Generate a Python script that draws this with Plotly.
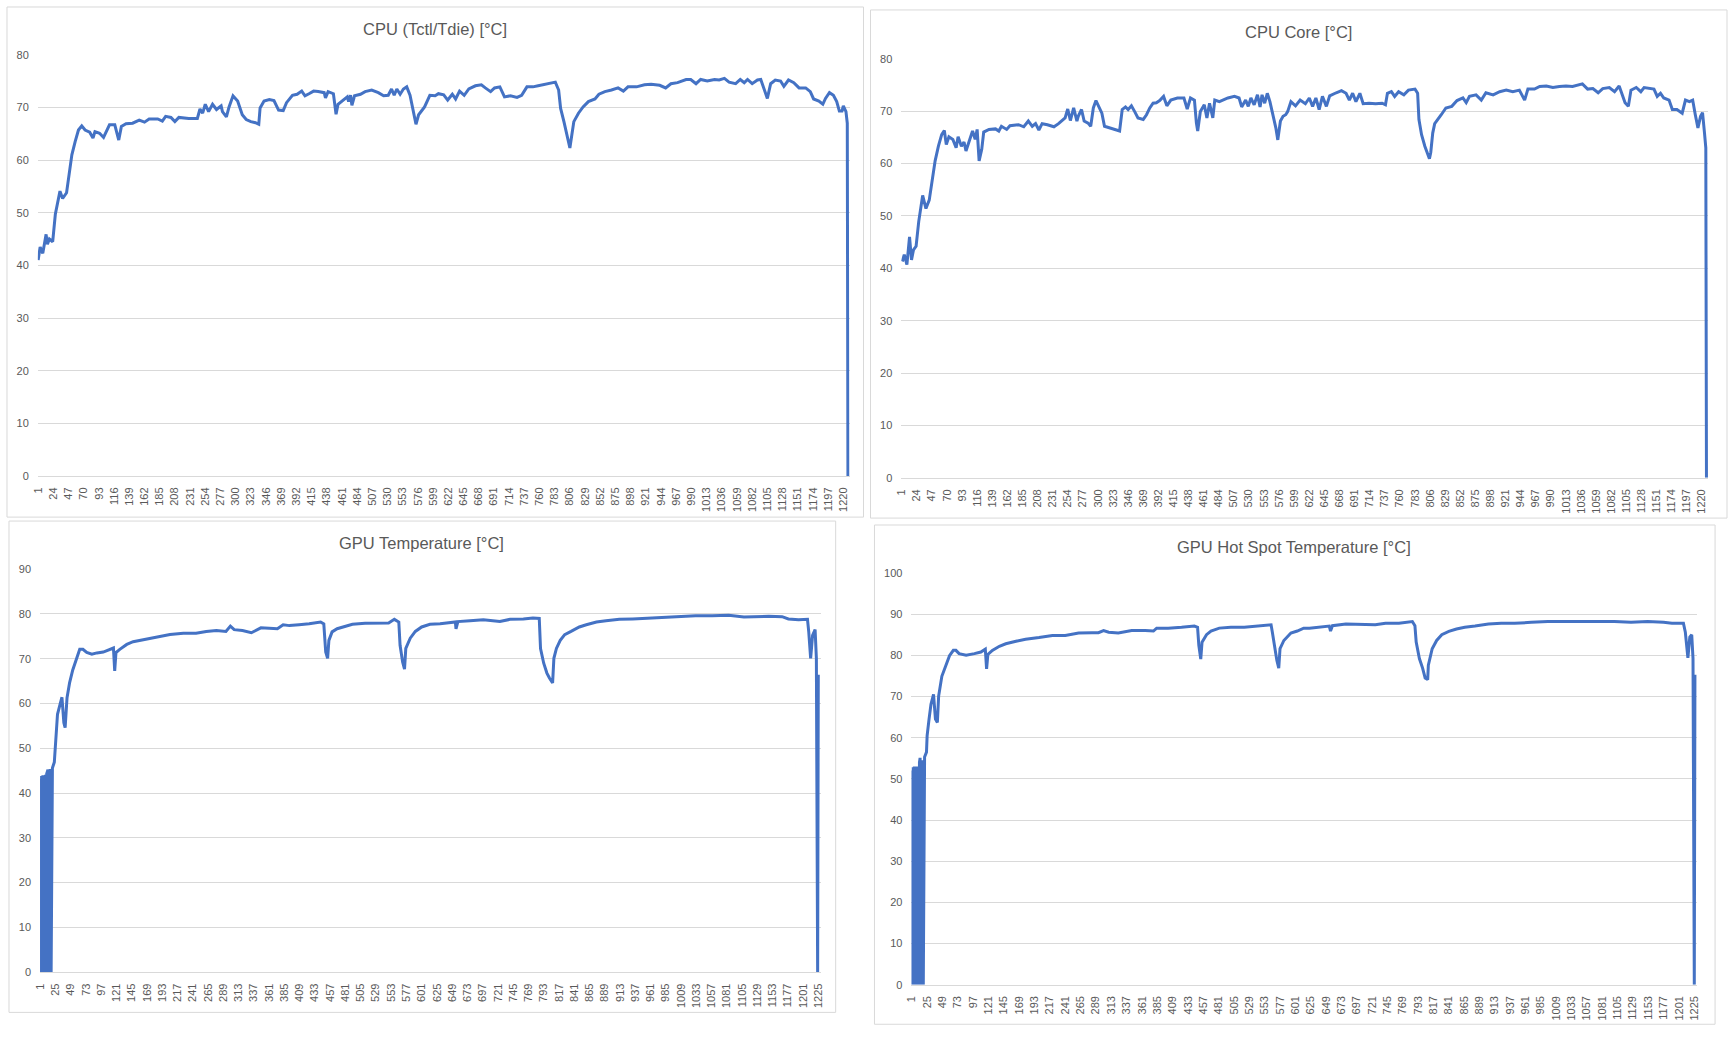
import plotly.graph_objects as go

W, H = 1732, 1052
N_CAT = 1229

# ---------------- data (sample index, value) ----------------
cpu_x = [1,4,8,13,15,18,23,27,34,38,44,48,52,57,62,67,72,79,84,87,94,100,104,109,117,123,127,134,144,154,162,169,182,189,194,202,208,214,229,242,246,250,254,259,265,271,278,280,286,290,296,303,310,316,323,330,335,337,343,351,358,365,372,377,386,393,400,405,411,418,425,434,436,440,448,452,455,464,469,471,474,476,480,489,496,506,516,524,531,536,540,544,549,554,559,564,569,573,577,582,586,594,602,607,615,621,628,633,639,646,653,663,672,678,686,692,700,707,716,726,733,741,750,758,766,776,784,789,792,797,802,806,809,812,819,826,834,844,850,859,869,879,887,894,907,919,929,942,951,959,969,982,989,997,1004,1014,1025,1032,1040,1047,1057,1064,1070,1075,1082,1090,1095,1100,1105,1110,1117,1125,1130,1137,1145,1153,1163,1170,1175,1183,1189,1193,1199,1205,1210,1214,1218,1220,1224,1226,1227]
cpu_y = [41.0,43.5,42.3,45.9,44.0,45.0,44.5,49.7,54.1,52.7,53.8,57.9,61.0,63.5,65.7,66.5,65.7,65.3,64.2,65.4,65.1,64.3,65.3,66.7,66.7,63.8,66.4,66.9,67.0,67.6,67.2,67.8,67.8,67.4,68.3,68.1,67.3,68.1,67.9,67.9,69.7,68.9,70.6,69.2,70.6,69.6,70.3,69.2,68.2,70.1,72.2,71.2,68.6,67.7,67.3,67.1,66.8,69.9,71.2,71.5,71.3,69.5,69.4,70.9,72.3,72.5,73.1,72.2,72.6,73.1,73.0,72.8,71.8,73.0,72.6,68.7,70.6,71.4,72.0,71.1,72.3,70.4,72.2,72.5,73.0,73.3,72.8,72.2,72.3,73.5,72.3,73.5,72.5,73.5,73.9,72.3,69.2,66.8,68.6,69.5,70.1,72.3,72.2,72.6,72.4,71.4,72.5,71.6,73.1,72.3,73.5,74.1,74.3,73.7,73.0,73.7,73.9,72.0,72.2,71.9,72.3,73.9,73.9,74.1,74.3,74.5,74.8,73.3,69.8,67.3,64.5,62.3,64.8,67.3,68.9,70.1,71.1,71.6,72.5,73.0,73.3,73.7,73.1,73.9,73.9,74.3,74.4,74.2,73.7,74.5,74.7,75.3,75.3,74.5,75.3,75.0,75.3,75.2,75.5,74.8,74.5,75.3,74.7,75.3,74.5,75.2,75.3,73.3,71.7,74.5,75.2,75.0,74.0,75.2,74.7,73.7,73.7,73.0,71.6,71.2,70.6,71.7,72.8,72.3,71.1,69.3,69.3,70.3,69.2,67.0,0.0]

core_x = [2,5,9,13,16,19,23,27,33,38,43,48,52,57,62,66,69,73,79,84,87,92,96,99,105,109,113,116,119,123,126,134,144,149,153,161,166,179,187,194,200,205,210,215,223,233,240,245,250,254,258,263,268,270,275,279,285,289,293,297,302,306,310,318,326,333,337,342,346,351,356,361,369,374,379,384,389,394,400,405,411,421,431,436,441,447,450,452,456,462,466,470,475,478,485,490,498,508,515,519,525,529,533,538,543,547,550,554,558,562,566,571,574,578,582,586,589,594,601,608,616,622,627,632,637,642,648,653,663,671,678,683,688,693,699,704,713,723,733,738,741,747,752,758,766,773,783,787,789,793,798,805,807,810,813,818,823,830,839,847,856,861,866,876,884,891,902,912,922,932,942,950,955,965,973,983,993,1003,1013,1023,1031,1038,1046,1054,1062,1069,1079,1087,1094,1098,1103,1108,1112,1120,1127,1132,1140,1147,1152,1157,1162,1170,1175,1182,1190,1195,1201,1206,1210,1214,1218,1221,1224,1226,1227]
core_y = [41.3,42.6,40.7,46.0,41.6,43.5,44.2,48.9,53.9,51.4,53.0,57.0,60.5,63.3,65.5,66.3,63.6,65.1,64.6,63.0,65.1,63.3,64.1,62.4,64.9,66.2,64.6,66.5,60.5,62.7,66.0,66.5,66.6,66.2,67.1,66.5,67.2,67.4,67.0,68.1,67.1,67.6,66.4,67.6,67.4,67.0,67.6,68.1,68.7,70.4,68.2,70.6,68.1,69.0,70.3,68.1,67.7,67.1,70.6,72.0,70.6,69.6,67.1,66.8,66.6,66.2,70.3,70.8,70.3,71.0,69.9,68.7,68.4,69.3,70.6,71.5,71.6,72.0,72.8,71.0,72.1,72.5,72.5,70.4,72.5,72.1,67.7,66.2,69.9,71.2,68.7,71.5,68.7,72.1,71.8,72.1,72.5,72.8,72.5,70.8,72.1,70.9,72.5,71.2,73.1,70.8,73.1,71.5,73.4,71.8,69.6,66.8,64.5,68.1,69.0,69.3,69.9,71.8,71.0,72.1,71.4,72.5,70.9,72.5,70.3,72.8,70.9,72.9,73.5,73.9,73.4,72.1,73.4,71.8,73.4,71.4,71.5,71.4,71.5,71.2,73.4,73.7,72.8,73.7,73.1,74.0,74.2,73.4,68.4,65.5,63.3,60.9,62.1,65.8,67.6,68.4,69.3,70.6,70.9,72.0,72.5,71.6,72.8,73.1,72.1,73.5,73.1,73.7,74.0,73.7,74.0,72.1,74.2,74.2,74.7,74.8,74.5,74.7,74.8,74.7,75.0,75.2,74.2,74.3,73.5,74.3,74.5,73.7,74.8,73.4,71.6,70.9,74.0,74.5,73.7,74.5,74.3,74.2,72.8,73.4,72.5,72.1,70.3,70.3,69.6,72.1,71.8,72.1,69.3,66.8,69.0,69.7,65.8,63.0,0.0]

gpu_x = [1,2,3,4,5,6,7,8,9,10,11,12,13,14,15,16,17,18,19,20,23,25,28,32,35,38,40,43,47,52,58,63,68,74,82,90,100,108,116,118,120,126,137,147,158,173,189,205,226,246,262,278,293,300,306,319,333,340,348,361,374,383,393,408,424,442,447,450,453,455,460,468,479,492,512,533,549,558,565,567,571,574,576,583,591,601,614,630,646,654,655,658,677,698,724,740,761,776,786,788,793,798,802,807,809,813,819,826,836,849,860,876,891,912,933,959,985,1011,1032,1058,1084,1108,1126,1147,1168,1178,1194,1208,1210,1213,1216,1220,1222,1223,1224,1225]
gpu_y = [43.2,0,43.8,0,44.0,0,43.9,0,44.1,0,44.3,45.0,45.2,0,45.3,0,45.4,0,45.4,45.6,46.9,51.7,57.6,59.8,61.4,55.7,54.6,61.3,64.6,67.5,70.1,72.1,72.1,71.4,71.0,71.3,71.5,71.9,72.4,67.3,71.4,72.1,73.2,73.8,74.1,74.6,75.1,75.4,75.7,75.7,76.1,76.3,76.1,77.3,76.5,76.3,75.8,76.3,76.9,76.8,76.7,77.6,77.4,77.6,77.8,78.2,77.8,71.5,70.1,74.1,76.0,76.7,77.2,77.7,77.9,78.0,78.0,78.8,78.2,73.0,69.3,67.7,72.3,74.6,76.1,77.1,77.7,77.8,78.0,78.2,76.7,78.3,78.5,78.7,78.3,78.8,78.9,79.1,79.0,72.3,69.0,66.8,65.7,64.6,70.1,72.3,74.1,75.4,76.1,77.1,77.6,78.2,78.5,78.8,78.9,79.1,79.3,79.5,79.6,79.6,79.7,79.3,79.4,79.5,79.4,78.9,78.7,78.8,76.0,70.1,75.2,76.5,70.1,35.0,0,66.4]

hot_x = [1,2,3,4,5,6,7,8,9,10,11,12,13,14,15,16,17,18,19,20,21,24,25,28,31,35,38,41,43,48,54,60,66,70,75,86,99,109,116,118,120,127,138,148,164,179,200,221,241,262,283,293,301,309,324,332,345,366,379,384,402,423,443,448,450,453,455,462,469,482,500,521,542,558,563,565,569,572,575,577,583,594,604,614,623,638,654,656,659,680,701,726,742,763,784,788,790,795,800,804,808,809,815,822,830,841,853,866,882,903,923,944,970,996,1022,1048,1074,1100,1126,1152,1177,1190,1208,1211,1215,1218,1221,1223,1224,1225,1226]
hot_y = [52.0,0,52.8,0,53.0,0,52.9,0,53.0,0,52.5,0,54.0,55.1,0,54.5,0,54.5,0,54.6,55.3,56.5,60.5,64.5,68.1,70.5,64.5,63.7,70.1,74.9,77.3,79.9,81.2,81.2,80.4,80.0,80.4,80.8,81.5,76.7,80.2,81.2,82.2,82.8,83.4,83.9,84.3,84.8,84.8,85.4,85.5,85.5,86.0,85.6,85.4,85.6,86.0,86.0,85.9,86.6,86.6,86.8,87.1,86.8,82.4,79.1,83.2,85.0,85.9,86.6,86.8,86.8,87.1,87.4,87.4,85.6,81.6,78.8,76.9,81.6,83.6,85.4,85.9,86.6,86.6,86.8,87.1,85.9,87.2,87.6,87.5,87.4,87.8,87.8,88.2,87.2,83.2,79.2,76.9,74.5,74.1,77.6,81.6,83.6,85.0,85.8,86.4,86.8,87.1,87.6,87.8,87.8,88.0,88.2,88.2,88.2,88.2,88.2,88.0,88.2,88.0,87.8,87.8,85.6,79.4,84.4,85.0,79.2,40.0,0,75.3]

cpu_ticks = list(range(1, 1221, 23))
gpu_ticks = list(range(1, 1226, 24))

titles = ["CPU (Tctl/Tdie) [°C]", "CPU Core [°C]", "GPU Temperature [°C]", "GPU Hot Spot Temperature [°C]"]
y_max = [80, 80, 90, 100]

# ---------------- layout geometry (pixels) ----------------
plots = [  # x0, x1, ytop, ybottom
    (32, 848, 49.3, 475.5),
    (900, 1711, 53.3, 477.3),
    (34.2, 819.4, 569.7, 977.3),
    (910.2, 1700, 573.5, 990),
]
boxes = [(1, 862, 1, 517), (869, 1730, 4, 518), (3, 834, 521, 1018), (873, 1718, 525, 1030)]
title_pos = [(431, 23), (1299, 26), (418, 543), (1295, 547)]

FONT = "Liberation Sans, Arial, sans-serif"
LINE = "#4472C4"
GRID = "#d9d9d9"
TXT = "#595959"

def px(x):
    return x / W

def py(y):
    return 1 - y / H

fig = go.Figure()
series = [(cpu_x, cpu_y), (core_x, core_y), (gpu_x, gpu_y), (hot_x, hot_y)]
ticks = [cpu_ticks, cpu_ticks, gpu_ticks, gpu_ticks]

layout = dict(
    width=W, height=H, margin=dict(l=0, r=0, t=0, b=0),
    paper_bgcolor="white", plot_bgcolor="white", showlegend=False,
    font=dict(family=FONT, color=TXT, size=11),
)
shapes = []
annotations = []
for i, ((sx, sy), tv) in enumerate(zip(series, ticks)):
    n = "" if i == 0 else str(i + 1)
    fig.add_trace(go.Scatter(x=sx, y=sy, mode="lines", xaxis="x" + n, yaxis="y" + n,
                             line=dict(color=LINE, width=3), hoverinfo="skip"))
    x0, x1, yt, yb = plots[i]
    layout["xaxis" + n] = dict(
        domain=[px(x0), px(x1)], anchor="y" + n, range=[0.5, N_CAT + 0.5],
        tickmode="array", tickvals=tv, ticktext=[str(t) for t in tv], tickangle=-90,
        showgrid=False, zeroline=False, showline=True, linecolor=GRID, linewidth=1,
        ticks="", ticklabelstandoff=6,
        tickfont=dict(size=11, color=TXT, family=FONT), fixedrange=True,
    )
    layout["yaxis" + n] = dict(
        domain=[py(yb), py(yt)], anchor="x" + n, range=[0, y_max[i]], dtick=10,
        showgrid=True, gridcolor=GRID, gridwidth=1, zeroline=False, showline=False,
        ticks="", ticklabelstandoff=8,
        tickfont=dict(size=11, color=TXT, family=FONT), fixedrange=True,
    )
    bx0, bx1, by0, by1 = boxes[i]
    shapes.append(dict(type="rect", xref="paper", yref="paper", x0=px(bx0), x1=px(bx1),
                       y0=py(by1), y1=py(by0), line=dict(color=GRID, width=1), layer="below"))
    tx, ty = title_pos[i]
    annotations.append(dict(text=titles[i], xref="paper", yref="paper", x=px(tx), y=py(ty),
                            xanchor="center", yanchor="middle", showarrow=False,
                            font=dict(size=16.5, color=TXT, family=FONT)))

layout["shapes"] = shapes
layout["annotations"] = annotations
fig.update_layout(**layout)
fig.write_html("out.html", config={"displayModeBar": False},
               post_script="document.body.style.margin='0px';document.body.style.overflow='hidden';")
